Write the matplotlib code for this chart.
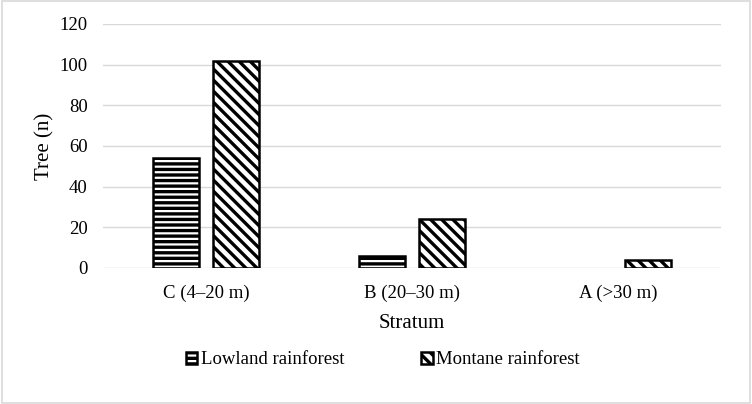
import matplotlib
matplotlib.use("Agg")
import matplotlib.pyplot as plt
import numpy as np
from matplotlib.patches import Rectangle

plt.rcParams['font.family'] = ['Liberation Serif', 'DejaVu Serif']
plt.rcParams['hatch.linewidth'] = 2.4

strata = ["C (4\u201320 m)", "B (20\u201330 m)", "A (>30 m)"]
lowland = [54, 6, 0]
montane = [102, 24, 4]
yticks = [0, 20, 40, 60, 80, 100, 120]

fig = plt.figure(figsize=(7.52, 4.04), dpi=100)
ax = fig.add_axes([103 / 752, 1 - 268 / 404, 618 / 752, 244 / 404])

x = np.arange(len(strata))
w = 0.225
off = 0.145
lw_low = [1.8 if v > 0 else 0 for v in lowland]
lw_mon = [1.8 if v > 0 else 0 for v in montane]
ax.bar(x - off, lowland, w, color="white", edgecolor="black", linewidth=lw_low,
       hatch="---", label="Lowland rainforest", zorder=3)
ax.bar(x + off, montane, w, color="white", edgecolor="black", linewidth=lw_mon,
       hatch="\\\\\\", label="Montane rainforest", zorder=3)

ax.set_xlim(-0.5, 2.5)
ax.set_ylim(0, 120)
ax.set_yticks(yticks)
ax.set_xticks(x)
ax.set_xticklabels(strata)
ax.tick_params(length=0, labelsize=13.5)
ax.tick_params(axis='x', pad=12)
ax.tick_params(axis='y', pad=11)
ax.grid(axis='y', color="#d9d9d9", linewidth=1, zorder=0)
for s in ax.spines.values():
    s.set_visible(False)

ax.set_ylabel("Tree (n)", fontsize=15, labelpad=4)
ax.set_xlabel("Stratum", fontsize=15, labelpad=9)

handles, labels = ax.get_legend_handles_labels()
fig.legend(handles, labels, loc="center", bbox_to_anchor=(383 / 752, 1 - 360 / 404),
           ncol=2, frameon=False, fontsize=13.5, columnspacing=4.1,
           handlelength=0.6, handleheight=0.6, handletextpad=0.2)

fig.patches.append(Rectangle((0.002, 0.003), 0.996, 0.994, transform=fig.transFigure,
                             fill=False, edgecolor="#d9d9d9", linewidth=1.2))

fig.savefig("out.png", dpi=100)
